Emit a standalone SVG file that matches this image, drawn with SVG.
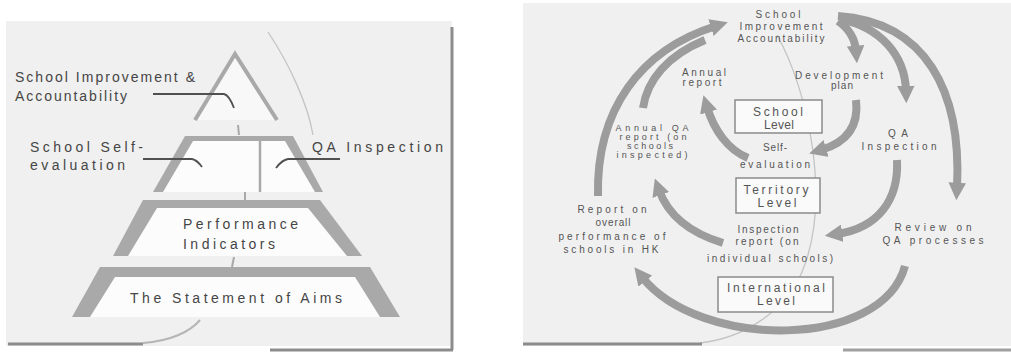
<svg xmlns="http://www.w3.org/2000/svg" width="1011" height="352" viewBox="0 0 1011 352">
<style>
.panel{fill:#f0f0f0}
.band{fill:#a9a9a9}
.inner{fill:#fcfcfc}
.lt{font-family:"Liberation Sans",Arial,sans-serif;font-size:14px;fill:#454545}
.rt{font-family:"Liberation Sans",Arial,sans-serif;font-size:10px;fill:#555;text-anchor:middle}
.st{font-size:9px}
.bt{font-family:"Liberation Sans",Arial,sans-serif;font-size:12px;fill:#555;text-anchor:middle}
.leader{fill:none;stroke:#505050;stroke-width:1.8}
.box{fill:#fafafa;stroke:#8a8a8a;stroke-width:1.5}
.arr{fill:none;stroke:#9c9c9c;stroke-width:8}
.deco{fill:none;stroke:#c4c4c4;stroke-width:1.3}
.shadow{fill:none;stroke:#8c8c8c;stroke-width:3}
</style>
<defs>
<marker id="ah" viewBox="0 0 10 10" refX="3" refY="5" markerWidth="2.2" markerHeight="2.2" orient="auto" markerUnits="strokeWidth">
<path d="M0,0 L10,5 L0,10 z" fill="#9c9c9c"/>
</marker>
</defs>
<rect width="1011" height="352" fill="#ffffff"/>

<!-- Left panel -->
<g id="left-panel">
<rect class="panel" x="6" y="21" width="446" height="325"/>
<path class="deco" d="M268,32 C290,65 308,105 313,135"/>
<path class="shadow" d="M8,344 L143,344"/>
<path fill="none" stroke="#b5b5b5" stroke-width="2" d="M143,343 C170,341 190,332 200,320"/>
<path class="shadow" d="M270,350 L453,350"/>
<path class="shadow" d="M452,27 L452,350"/>
</g>

<g id="tier-apex">
<polygon points="235,56 275,120 197,120" fill="#f8f8f8"/>
<polyline points="195,120 235,54 277,120" fill="none" stroke="#a9a9a9" stroke-width="4"/>
<line x1="238" y1="125" x2="239" y2="135" stroke="#a9a9a9" stroke-width="2"/>
</g>

<g id="tier-2">
<polygon class="band" points="185,136 293,136 323,192 153,192"/>
<polygon class="inner" points="193,141 285,141 315,192 163,192"/>
<line x1="260" y1="141" x2="260" y2="192" stroke="#a9a9a9" stroke-width="2.5"/>
<line x1="245" y1="192" x2="245" y2="200" stroke="#a9a9a9" stroke-width="2"/>
</g>

<g id="tier-3">
<polygon class="band" points="143,200 320,200 362,256 113,256"/>
<polygon class="inner" points="157,208 308,208 347,256 128,256"/>
<line x1="234" y1="257" x2="232" y2="267" stroke="#a9a9a9" stroke-width="2"/>
<text class="lt" x="183" y="229" textLength="115">Performance</text>
<text class="lt" x="183" y="249" textLength="92">Indicators</text>
</g>

<g id="tier-4">
<polygon class="band" points="100,267 370,267 400,317 72,317"/>
<polygon class="inner" points="115,277 355,277 380,317 90,317"/>
<text class="lt" x="130" y="303" textLength="212">The Statement of Aims</text>
</g>

<g id="label-improvement">
<text class="lt" x="15" y="82" textLength="180">School Improvement &amp;</text>
<text class="lt" x="15" y="101" textLength="112">Accountability</text>
<path class="leader" d="M153,94 L224,94 Q229,95 234,108"/>
</g>

<g id="label-self-evaluation">
<text class="lt" x="30" y="152" textLength="113">School Self-</text>
<text class="lt" x="30" y="170" textLength="95">evaluation</text>
<path class="leader" d="M143,159 L192,159 Q197,160 202,167"/>
</g>

<g id="label-qa-inspection">
<text class="lt" x="312" y="152" textLength="131">QA Inspection</text>
<path class="leader" d="M340,159 L288,159 Q282,160 276,168"/>
</g>

<!-- Right panel -->
<g id="right-panel">
<rect class="panel" x="523" y="3" width="488" height="343"/>
<path class="deco" d="M777,35 C808,90 832,200 802,272 C786,310 745,338 700,343"/>
<path class="shadow" d="M523,344 L702,344"/>
<path fill="none" stroke="#a0a0a0" stroke-width="3" d="M843,350 L1011,350"/>
</g>

<g id="connectors">
<path class="arr" d="M643,108 C647,80 668,55 705,40"/>
<path class="arr" marker-end="url(#ah)" d="M598,196 C596,110 640,50 716,26"/>
<path class="arr" marker-end="url(#ah)" d="M748,158 C728,150 714,130 707,107"/>
<path class="arr" marker-end="url(#ah)" d="M856,100 C859,125 848,142 821,150"/>
<path class="arr" stroke-width="7" marker-end="url(#ah)" d="M838,21 C848,28 855,38 856,51"/>
<path class="arr" marker-end="url(#ah)" d="M840,19 C880,27 905,55 906,91"/>
<path class="arr" stroke-width="9" marker-end="url(#ah)" d="M838,16 C925,22 962,90 957,188"/>
<path class="arr" marker-end="url(#ah)" d="M897,160 C899,200 878,228 837,234"/>
<path class="arr" marker-end="url(#ah)" d="M723,243 C690,233 668,215 659,190"/>
<path class="arr" stroke-width="9" marker-end="url(#ah)" d="M905,266 C882,350 700,350 642,277"/>
</g>

<g id="node-sia">
<text class="rt" x="778" y="18" textLength="45">School</text>
<text class="rt" x="781" y="30" textLength="83">Improvement</text>
<text class="rt" x="781" y="42" textLength="87">Accountability</text>
</g>
<g id="node-annual-report">
<text class="rt" x="704" y="76" textLength="44">Annual</text>
<text class="rt" x="702" y="86" textLength="39">report</text>
</g>
<g id="node-development-plan">
<text class="rt" x="839" y="79" textLength="88">Development</text>
<text class="rt" x="842" y="89" textLength="22">plan</text>
</g>
<g id="node-school-level">
<rect class="box" x="735" y="100" width="87" height="33"/>
<text class="bt" x="778" y="116" textLength="50">School</text>
<text class="bt" x="779" y="129" textLength="30">Level</text>
</g>
<g id="node-self-evaluation">
<text class="rt" x="775" y="151" textLength="24">Self-</text>
<text class="rt" x="775" y="168" textLength="70">evaluation</text>
</g>
<g id="node-annual-qa">
<text class="rt st" x="652" y="131" textLength="73">Annual QA</text>
<text class="rt st" x="653" y="140" textLength="67">report (on</text>
<text class="rt st" x="650" y="149" textLength="46">schools</text>
<text class="rt st" x="652" y="158" textLength="71">inspected)</text>
</g>
<g id="node-qa-inspection">
<text class="rt" x="898" y="137" textLength="20">QA</text>
<text class="rt" x="899" y="150" textLength="75">Inspection</text>
</g>
<g id="node-territory-level">
<rect class="box" x="736" y="178" width="84" height="35"/>
<text class="bt" x="776" y="194" textLength="65">Territory</text>
<text class="bt" x="777" y="207" textLength="39">Level</text>
</g>
<g id="node-inspection-report">
<text class="rt" x="768" y="233" textLength="61">Inspection</text>
<text class="rt" x="767" y="245" textLength="63">report (on</text>
<text class="rt" x="770" y="262" textLength="126">individual schools)</text>
</g>
<g id="node-report-overall">
<text class="rt" x="612" y="213" textLength="69">Report on</text>
<text class="rt" x="613" y="226" textLength="35">overall</text>
<text class="rt" x="612" y="240" textLength="107">performance of</text>
<text class="rt" x="611" y="253" textLength="95">schools in HK</text>
</g>
<g id="node-review">
<text class="rt" x="933" y="231" textLength="77">Review on</text>
<text class="rt" x="933" y="244" textLength="101">QA processes</text>
</g>
<g id="node-international-level">
<rect class="box" x="718" y="277" width="115" height="35"/>
<text class="bt" x="776" y="292" textLength="98">International</text>
<text class="bt" x="776" y="305" textLength="38">Level</text>
</g>
</svg>
